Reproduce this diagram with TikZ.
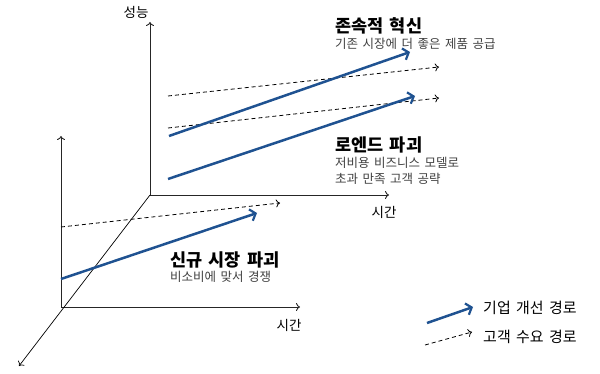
\documentclass[tikz,border=0pt]{standalone}
\usepackage{fontspec}
\setmainfont{Noto Sans CJK KR}[WordSpace=1.6]
\usetikzlibrary{arrows.meta}
\definecolor{bluepath}{HTML}{1F5291}
\definecolor{subgray}{HTML}{404040}
\begin{document}
\begin{tikzpicture}[x=1pt,y=-1pt,
  axis/.style={line width=0.9pt,draw=black!85,-{To[length=4pt,width=8pt]}},
  diag/.style={line width=0.7pt,draw=black,-{To[length=4pt,width=8pt]}},
  firm/.style={line width=2.5pt,draw=bluepath,-{Straight Barb[length=5pt,width=12pt,line width=2.2pt]}},
  demand/.style={line width=0.8pt,draw=black,dash pattern=on 4pt off 3pt,-{To[length=4pt,width=8pt]}},
  title/.style={anchor=base west,font=\bfseries\fontsize{17.5}{19}\selectfont,inner sep=0pt},
  sub/.style={anchor=base west,font=\fontsize{12.5}{14}\selectfont,text=subgray,inner sep=0pt,align=left},
  axlab/.style={font=\fontsize{13.5}{15}\selectfont,inner sep=0pt},
  leg/.style={anchor=west,font=\fontsize{15}{16}\selectfont,inner sep=0pt}]
\useasboundingbox (0,0) rectangle (600,374);
% back axes
\coordinate (bo) at (150,195);
\coordinate (btop) at (150,22);
\coordinate (bright) at (389,195);
\draw[axis] (bo) -- (btop);
\draw[axis] (bo) -- (bright);
\node[axlab] (perf) at (136,12) {성능};
\node[axlab] (btime) at (384,212) {시간};
% front axes
\coordinate (fo) at (61,307);
\coordinate (ftop) at (61,136);
\coordinate (fright) at (300,307);
\draw[axis] (fo) -- (ftop);
\draw[axis] (fo) -- (fright);
\node[axlab] (ftime) at (289,325) {시간};
% diagonal
\coordinate (dend) at (19,366);
\draw[diag] (bo) -- (dend);
% dashed demand paths
\coordinate (d1s) at (168,96);  \coordinate (d1e) at (439,67);
\coordinate (d2s) at (168,128); \coordinate (d2e) at (439,98);
\coordinate (d3s) at (61,227);  \coordinate (d3e) at (280,203);
\draw[demand] (d1s) -- (d1e);
\draw[demand] (d2s) -- (d2e);
\draw[demand] (d3s) -- (d3e);
% blue firm paths
\coordinate (b1s) at (169,136); \coordinate (b1e) at (410,52);
\coordinate (b2s) at (168,179); \coordinate (b2e) at (415,96);
\coordinate (b3s) at (61,279);  \coordinate (b3e) at (257,213);
\draw[firm] (b1s) -- (b1e);
\draw[firm] (b2s) -- (b2e);
\draw[firm] (b3s) -- (b3e);
% labels
\node[title] (t1) at (335,33) {존속적 혁신};
\node[sub] (s1) at (335,49) {기존 시장에 더 좋은 제품 공급};
\node[title] (t2) at (335,152) {로엔드 파괴};
\node[sub] (s2a) at (335,168) {저비용 비즈니스 모델로};
\node[sub] (s2b) at (335,184) {초과 만족 고객 공략};
\node[title] (t3) at (170,267) {신규 시장 파괴};
\node[sub] (s3) at (170,282) {비소비에 맞서 경쟁};
% legend
\coordinate (l1s) at (427,323); \coordinate (l1e) at (473,307);
\coordinate (l2s) at (425,345); \coordinate (l2e) at (472,332);
\draw[firm] (l1s) -- (l1e);
\draw[demand] (l2s) -- (l2e);
\node[leg] (lt1) at (483,308) {기업 개선 경로};
\node[leg] (lt2) at (483,337) {고객 수요 경로};
\end{tikzpicture}
\end{document}
